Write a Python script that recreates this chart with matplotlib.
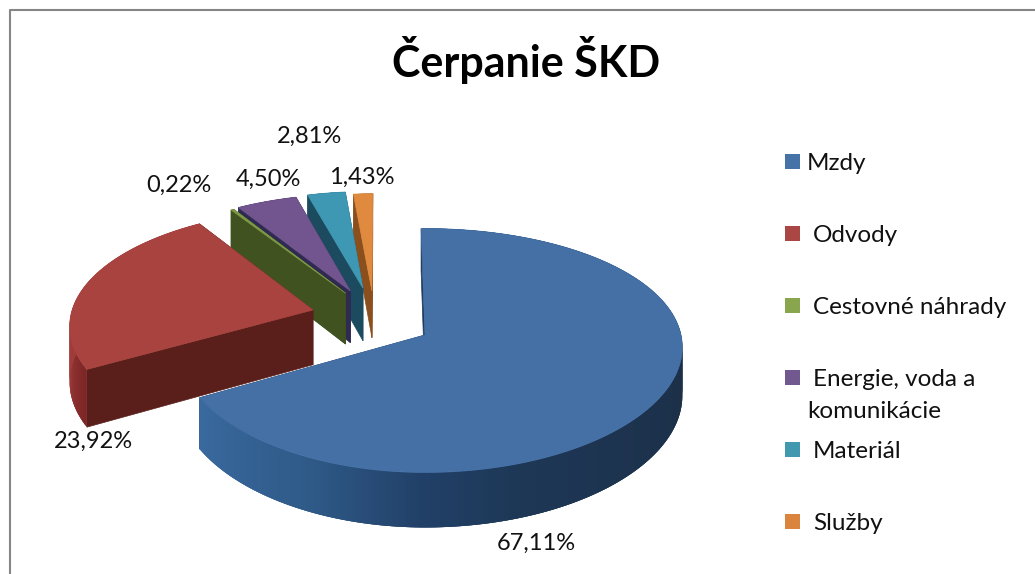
import numpy as np
import matplotlib
matplotlib.use("Agg")
import matplotlib.pyplot as plt
from matplotlib.colors import to_rgb
from matplotlib.patches import Rectangle

plt.rcParams["font.family"] = ["Lato", "DejaVu Sans"]

categories = ["Mzdy", "Odvody", "Cestovné náhrady", "Energie, voda a\nkomunikácie", "Materiál", "Služby"]
values = [67.11, 23.92, 0.22, 4.50, 2.81, 1.43]
title = "Čerpanie ŠKD"

# layout, all in pixels of the 1035x574 picture
top_colors = ["#4470a6", "#a8433f", "#7f9a45", "#72558f", "#3f98b3", "#e08a3f"]
wall_colors = ["#1f3a5c", "#5a1f1a", "#3f5220", "#2e2a52", "#1c4a5e", "#8a4f1c"]
legend_colors = ["#4572a7", "#aa4643", "#89a54e", "#71588f", "#4198af", "#db843d"]
# slice shift on the pie plane (x, towards viewer)
shifts = [(0, 0), (-.465, -.214), (-.335, -.365), (-.315, -.385), (-.2625, -.41), (-.224, -.385)]
extra_depth = [0, 8, 5, 6, 7, 1]
label_pos = [(536, 543), (93, 441), (179, 185), (268, 179), (310, 136), (362, 177)]
legend_text_x = [807, 813, 813, 813, 813, 813]

CX, CY = 425, 335
RX_LEFT, RX_RIGHT, RY = 246, 256, 120
PERSP_X, PERSP_Y = 0.1, 0.127
DEPTH = 48
FIRST_ANGLE = -1.0

# rim colour along the angle, (angle, colour)
rim_stops = {
    0: [(60, "#233c5a"), (100, "#1c2f47"), (160, "#1d3755"), (180, "#214068"), (205, "#2f5a88"), (241, "#3a6aa0")],
    1: [(240, "#7a2525"), (262, "#a03d3a"), (330, "#a03d3a")],
}


def project(x, y, extra=0, low=False):
    sx = 1 / (1 - PERSP_X * y)
    sy = 1 / (1 - PERSP_Y * y)
    rx = RX_LEFT if x < 0 else RX_RIGHT
    dz = DEPTH * sy + extra if low else 0
    return CX + rx * x * sx, CY + RY * y * sy + dz


def rim_color(i, a):
    if i not in rim_stops:
        return wall_colors[i]
    angs = [p[0] for p in rim_stops[i]]
    cols = np.array([to_rgb(p[1]) for p in rim_stops[i]])
    return tuple(np.interp(a, angs, cols[:, k]) for k in range(3))


def draw_slice(ax, i, a0, a1):
    sx, sy = shifts[i]
    ang = np.linspace(a0, a1, max(int(a1 - a0) * 2, 3))
    xs = sx + np.sin(np.radians(ang))
    ys = sy - np.cos(np.radians(ang))
    apex = project(sx, sy)
    apex_low = project(sx, sy, extra_depth[i], True)
    top = [project(x, y) for x, y in zip(xs, ys)]
    low = [project(x, y, extra_depth[i], True) for x, y in zip(xs, ys)]

    # end wall first, it is mostly hidden
    ax.fill(*zip(apex, top[-1], low[-1], apex_low), color=wall_colors[i], lw=.5)
    ax.fill(*zip(apex, top[0], low[0], apex_low), color=wall_colors[i], lw=.5)
    # each rim piece overlaps the next two steps so no seams show
    n = len(ang)
    for k in range(n - 1):
        c = rim_color(i, ang[k])
        e = min(k + 3, n - 1)
        ax.fill(*zip(top[k], *top[k + 1:e + 1], *low[k + 1:e + 1][::-1], low[k]), color=c, lw=0)
    ax.fill(*zip(apex, *top), color=top_colors[i], lw=.5)


fig = plt.figure(figsize=(10.35, 5.74), dpi=100)
ax = fig.add_axes([0, 0, 1, 1])
ax.set_xlim(0, 1035)
ax.set_ylim(574, 0)
ax.axis("off")

# frame of the chart, cut by the picture on the right and below
ax.plot([10, 10, 1035], [574, 10, 10], color="#868686", lw=1.5)

total = sum(values)
edges = FIRST_ANGLE + np.cumsum([0] + values) / total * 360

# painter order: back slices first, big blue one last
for i in range(len(values) - 1, -1, -1):
    draw_slice(ax, i, edges[i], edges[i + 1])

ax.text(526, 60, title, ha="center", va="center", fontsize=31, fontweight="bold", color="black")

for v, (x, y) in zip(values, label_pos):
    ax.text(x, y, f"{v:.2f}".replace(".", ",") + "%", ha="center", va="center", fontsize=17, color="#111111")

for i, name in enumerate(categories):
    y = 154 + 72 * i
    ax.add_patch(Rectangle((785, y), 15, 15, color=legend_colors[i], lw=0))
    lines = name.split("\n")
    ax.text(legend_text_x[i], y + 9, lines[0], va="center", fontsize=17.5, color="#111111")
    if len(lines) > 1:
        ax.text(807, y + 41, lines[1], va="center", fontsize=17.5, color="#111111")

fig.savefig("out.png", dpi=100)
